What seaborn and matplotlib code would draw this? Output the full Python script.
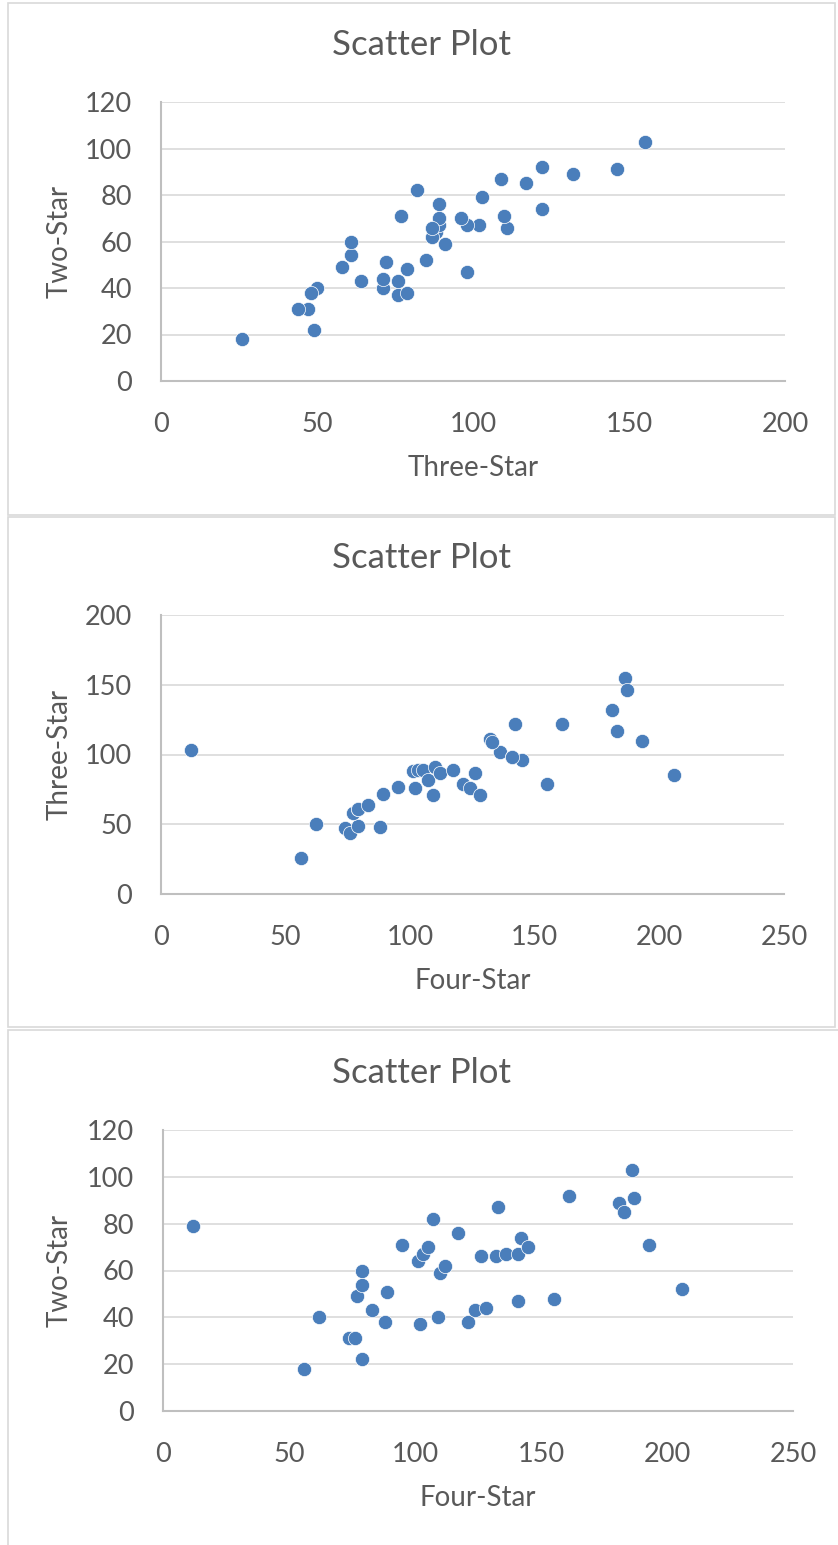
import pandas as pd
import matplotlib.pyplot as plt
import seaborn as sns
from matplotlib.patches import Rectangle

# Hotel ratings: counts per hotel for each star level
two_star = [79, 18, 40, 31, 31, 22, 49, 54, 60, 43, 38, 51, 71, 37, 64, 67, 70, 82, 40, 59, 62,
            76, 38, 43, 44, 66, 66, 67, 67, 74, 70, 87, 47, 48, 92, 89, 85, 103, 91, 71, 52]
three_star = [103, 26, 50, 47, 44, 49, 58, 61, 61, 64, 48, 72, 77, 76, 88, 89, 89, 82, 71, 91, 87,
              89, 79, 76, 71, 87, 111, 102, 98, 122, 96, 109, 98, 79, 122, 132, 117, 155, 146, 110, 85]
four_star = [12, 56, 62, 74, 76, 79, 77, 79, 79, 83, 88, 89, 95, 102, 101, 103, 105, 107, 109, 110, 112,
             117, 121, 124, 128, 126, 132, 136, 141, 142, 145, 133, 141, 155, 161, 181, 183, 186, 187, 193, 206]

df = pd.DataFrame({"Two-Star": two_star, "Three-Star": three_star, "Four-Star": four_star})

sns.set_style("white")
plt.rcParams["font.family"] = ["Lato", "DejaVu Sans"]

W, H = 838, 1545
fig = plt.figure(figsize=(W / 100, H / 100), dpi=100)

TEXT = "#595959"
GRID = "#d9d9d9"
AXIS = "#bfbfbf"
DOT = "#4a7ebb"

# (x column, y column, x max, y max, y step, plot box px: left, right, top, bottom, chart frame: top, bottom, right)
panels = [
    ("Three-Star", "Two-Star", 200, 120, 20, (161, 785, 102, 381), (3, 515, 835)),
    ("Four-Star", "Three-Star", 250, 200, 50, (161, 784, 615, 894), (517, 1027, 835)),
    ("Four-Star", "Two-Star", 250, 120, 20, (163, 793, 1130, 1411), (1030, 1560, 860)),
]

for xcol, ycol, xmax, ymax, ystep, (l, r, t, b), (bt, bb, br) in panels:
    # chart frame
    fig.patches.append(Rectangle((8 / W, 1 - bb / H), (br - 8) / W, (bb - bt) / H,
                                 transform=fig.transFigure, fill=False,
                                 edgecolor=GRID, linewidth=1.2))
    ax = fig.add_axes([l / W, 1 - b / H, (r - l) / W, (b - t) / H])
    sns.scatterplot(data=df, x=xcol, y=ycol, ax=ax, color=DOT, s=105,
                    edgecolor="white", linewidth=0.5, zorder=3)
    ax.set_xlim(0, xmax)
    ax.set_ylim(0, ymax)
    ax.set_xticks(range(0, xmax + 1, 50))
    ax.set_yticks(range(0, ymax + 1, ystep))
    ax.grid(axis="y", color=GRID, linewidth=1.2)
    ax.set_axisbelow(True)
    for side in ["top", "right"]:
        ax.spines[side].set_visible(False)
    for side in ["left", "bottom"]:
        ax.spines[side].set_color(AXIS)
        ax.spines[side].set_linewidth(1.5)
    ax.tick_params(length=0, labelsize=19.5, labelcolor=TEXT)
    ax.tick_params(axis="x", pad=22)
    ax.tick_params(axis="y", pad=21)
    ax.set_xlabel(xcol, fontsize=20, color=TEXT, va="center")
    ax.set_ylabel(ycol, fontsize=20, color=TEXT, va="center")
    ax.xaxis.set_label_coords(0.5, -(87 / (b - t)))
    ax.yaxis.set_label_coords(-(l - 60) / (r - l), 0.5)
    fig.text(421 / W, 1 - (t - 57) / H, "Scatter Plot", ha="center", va="center",
             fontsize=25, color=TEXT)

fig.savefig("out.png", dpi=100, facecolor="white")
